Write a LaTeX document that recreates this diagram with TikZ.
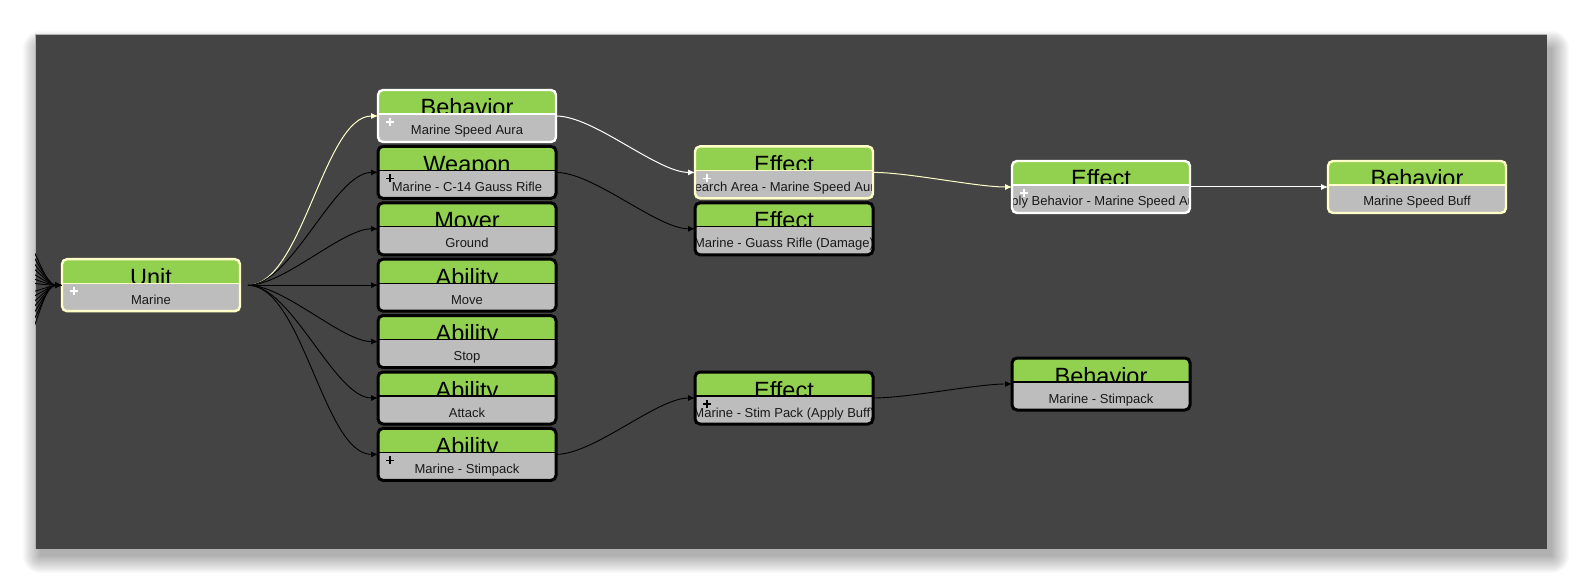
\documentclass[tikz,border=0pt]{standalone}
\usepackage{fontspec}
\setmainfont{Liberation Sans}
\usetikzlibrary{arrows.meta}
\definecolor{bgc}{HTML}{444444}
\definecolor{hdr}{HTML}{92D050}
\definecolor{bodyg}{HTML}{BDBDBD}
\definecolor{ly}{HTML}{FFFFC8}
\tikzset{
  cardbox/.style={rectangle, minimum width=178pt, minimum height=52pt, inner sep=0pt, outer sep=0pt},
  hdrtext/.style={inner sep=0pt, font=\fontsize{23.5}{24}\selectfont, text=black},
  bodytext/.style={inner sep=0pt, font=\fontsize{13}{14}\selectfont, text=black!90},
  edge/.style={black, line width=0.9pt, -{Latex[length=7pt,width=6pt]}},
  ledge/.style={edge, ly, line width=1pt},
  wedge/.style={edge, white, line width=1pt},
  scurve/.style={out=0, in=180, looseness=0.65},
}
\newcommand\card[8]{%
  \node[cardbox, anchor=north west] (#1) at (#2,#3) {};
  \begin{scope}
    \clip[rounded corners=5pt] (#1.north west) rectangle (#1.south east);
    \fill[hdr] (#1.north west) rectangle ([yshift=-24pt]#1.north east);
    \node[hdrtext, anchor=base] (#1-t) at ([yshift=-26pt]#1.north) {#5};
    \fill[bodyg] ([yshift=-24pt]#1.north west) rectangle (#1.south east);
    \node[bodytext, anchor=base] (#1-b) at ([yshift=-45pt]#1.north) {#6};
    \draw[draw=#7, line width=1.7pt] ([xshift=8pt,yshift=-32pt]#1.north west) -- ([xshift=16pt,yshift=-32pt]#1.north west)
       ([xshift=12pt,yshift=-28pt]#1.north west) -- ([xshift=12pt,yshift=-36pt]#1.north west);
  \end{scope}
  \draw[#4, line width=1.3pt] ([yshift=-24pt]#1.north west) -- ([yshift=-24pt]#1.north east);
  \draw[#4, line width=#8, rounded corners=5pt] (#1.north west) rectangle (#1.south east);
}
\begin{document}
\begin{tikzpicture}[x=1pt, y=-1pt]
\useasboundingbox (0,0) rectangle (1582,585);
% shadow
\foreach \k in {0,...,17}
  \fill[black, opacity=0.02, rounded corners=\k pt] ({40-\k},{48-\k}) rectangle ({1552+\k},{556+\k});
% background
\fill[bgc] (35,34) rectangle (1547,549);
\draw[gray!60, line width=0.8pt] (35,549) -- (35,34) -- (1547,34);

% cards
\card{unit}{62}{259.2}{ly}{Unit}{Marine}{white}{2.4pt}
\card{beh1}{378}{90}{white}{Behavior}{Marine Speed Aura}{white}{2.4pt}
\card{weap}{378}{146.4}{black}{Weapon}{Marine - C-14 Gauss Rifle}{black}{3pt}
\card{mover}{378}{202.8}{black}{Mover}{Ground}{none}{3pt}
\card{abmove}{378}{259.2}{black}{Ability}{Move}{none}{3pt}
\card{abstop}{378}{315.6}{black}{Ability}{Stop}{none}{3pt}
\card{abatk}{378}{372}{black}{Ability}{Attack}{none}{3pt}
\card{abstim}{378}{428.4}{black}{Ability}{Marine - Stimpack}{black}{3pt}
\card{eff1}{695}{146.4}{ly}{Effect}{Search Area - Marine Speed Aura}{white}{2.4pt}
\card{eff2}{695}{202.8}{black}{Effect}{Marine - Guass Rifle (Damage)}{none}{3pt}
\card{eff3}{695}{372}{black}{Effect}{Marine - Stim Pack (Apply Buff)}{black}{3pt}
\card{eff4}{1012}{161}{white}{Effect}{Apply Behavior - Marine Speed Aura}{white}{2.4pt}
\card{beh2}{1328}{161}{ly}{Behavior}{Marine Speed Buff}{none}{2.4pt}
\card{beh3}{1012}{358}{black}{Behavior}{Marine - Stimpack}{none}{3pt}

% incoming edges on the left
\begin{scope}
  \clip (35,34) rectangle (1547,549);
  \foreach \i/\yy/\aa in {1/240/-58,2/248/-54,3/256/-49,4/263/-44,5/270/-37,6/276/-30,7/282/-15,8/293/12,9/299/22,10/306/33,11/313/41,12/321/48,13/330/53,14/340/58}{
    \coordinate (in\i) at (28,\yy);
    \draw[edge] (in\i) to[out=\aa,in=180,looseness=0.7] (unit.west);
  }
\end{scope}

% outgoing edges from Unit
\coordinate (us) at ([xshift=8pt]unit.east);
\draw[ledge] (us) to[scurve] (beh1.west);
\draw[edge] (us) to[scurve] (weap.west);
\draw[edge] (us) to[scurve] (mover.west);
\draw[edge] (us) to[scurve] (abmove.west);
\draw[edge] (us) to[scurve] (abstop.west);
\draw[edge] (us) to[scurve] (abatk.west);
\draw[edge] (us) to[scurve] (abstim.west);

\draw[wedge] (beh1.east) to[scurve] (eff1.west);
\draw[edge] (weap.east) to[scurve] (eff2.west);
\draw[edge] (abstim.east) to[scurve] (eff3.west);
\draw[ledge] (eff1.east) to[scurve] (eff4.west);
\draw[wedge] (eff4.east) -- (beh2.west);
\draw[edge] (eff3.east) to[scurve] (beh3.west);
\end{tikzpicture}
\end{document}
